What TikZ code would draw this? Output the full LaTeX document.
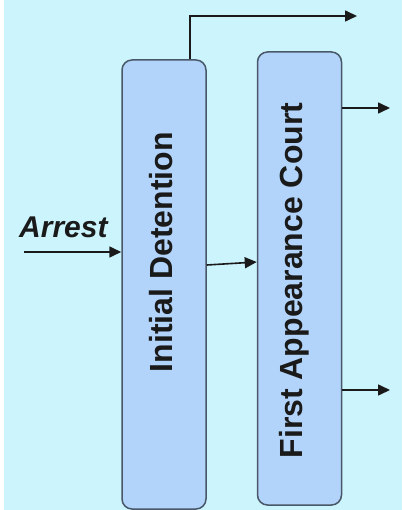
\documentclass[tikz,border=0pt]{standalone}
\usepackage{fontspec}
\setmainfont{Liberation Sans}
\usetikzlibrary{arrows.meta}

\definecolor{bgcyan}{RGB}{204,244,252}
\definecolor{boxblue}{RGB}{178,212,250}
\definecolor{boxline}{RGB}{72,88,104}
\definecolor{ink}{RGB}{26,26,26}

\tikzset{
	stage/.style={draw=boxline, fill=boxblue, line width=1.5pt, rounded corners=10pt, inner sep=0pt},
	stagetext/.style={text=ink, font=\bfseries\fontsize{32}{38}\selectfont, rotate=90, anchor=base, inner sep=0pt},
	flow/.style={draw=ink, line width=1.6pt, -{Triangle[length=12pt,width=11pt]}}
}

\begin{document}
\begin{tikzpicture}[x=1pt,y=1pt,yscale=-1,xscale=1]
		% Fix the size of the picture: 402 by 510
		\useasboundingbox (0,0) rectangle (402,510);

		% Light cyan background (thin white strip on the left)
		\fill[white] (0,0) rectangle (4,510);
		\fill[bgcyan] (4,0) rectangle (402,510);

		% The two stages
		\node[stage, minimum width=84pt, minimum height=449pt] (detention) at (164,284.5) {};
		\node[stage, minimum width=84pt, minimum height=453pt] (court) at (299.5,278.5) {};

		% Their rotated labels
		\node[stagetext] (detentionlbl) at (172,252) {Initial Detention};
		\node[stagetext] (courtlbl) at (302,280.5) {First Appearance Court};

		% Free ends of the arrows
		\coordinate (arrestin) at (24,252);
		\coordinate (topout) at (357,16);
		\coordinate (upperout) at (390,108);
		\coordinate (lowerout) at (390,390);

		% The arrest arrow and its label
		\draw[flow] (arrestin) -- (arrestin -| detention.west);
		\node[anchor=base west, inner sep=0pt, text=ink, font=\bfseries\itshape\fontsize{30}{36}\selectfont] (arrestlbl) at (19,237) {Arrest};

		% From the detention stage: up and out, and on to the court
		\draw[flow] (detention.north -| 190,0) |- (topout);
		\draw[flow] (detention.east |- 0,265) -- (court.west |- 0,262);

		% Out of the court
		\draw[flow] (court.east |- upperout) -- (upperout);
		\draw[flow] (court.east |- lowerout) -- (lowerout);
	\end{tikzpicture}
\end{document}
